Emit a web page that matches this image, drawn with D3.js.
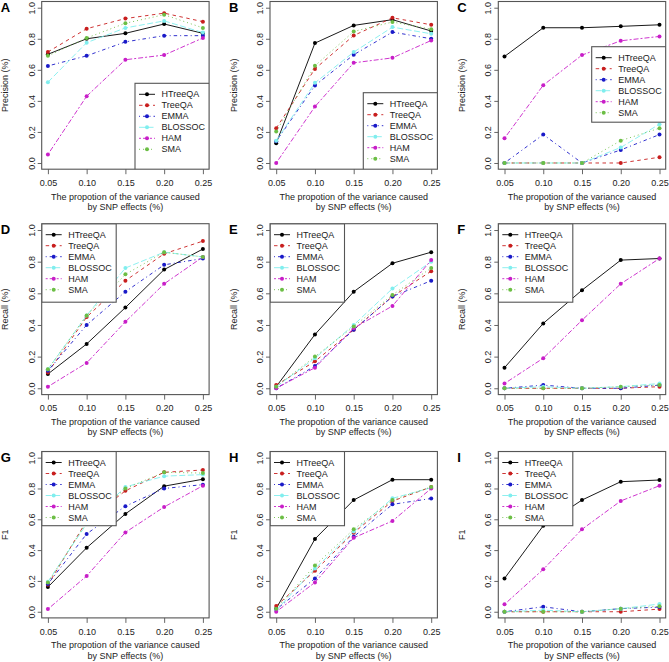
<!DOCTYPE html>
<html><head><meta charset="utf-8">
<script src="https://cdn.jsdelivr.net/npm/d3@7"></script>
<style>
html,body{margin:0;padding:0;background:#fff;}
text{font-family:"Liberation Sans",Arial,Helvetica,sans-serif;}
</style></head>
<body>
<svg id="chart" width="669" height="662"></svg>
<script>
// ---------- data ----------
const xValues = [0.05, 0.10, 0.15, 0.20, 0.25];
const xTickLabels = ["0.05", "0.10", "0.15", "0.20", "0.25"];
const yTicks = [0.0, 0.2, 0.4, 0.6, 0.8, 1.0];
const yTickLabels = ["0.0", "0.2", "0.4", "0.6", "0.8", "1.0"];
const methods = ["HTreeQA", "TreeQA", "EMMA", "BLOSSOC", "HAM", "SMA"];
const panelLetters = ["A","B","C","D","E","F","G","H","I"];
const rowTitles = ["Precision (%)", "Recall (%)", "F1"];
const xTitle = ["The propotion of the variance caused", "by SNP effects (%)"];

// each panel: one row per method (HTreeQA, TreeQA, EMMA, BLOSSOC, HAM, SMA)
const precisionA = [
  [0.70, 0.80, 0.835, 0.895, 0.835],
  [0.715, 0.865, 0.93, 0.965, 0.91],
  [0.625, 0.69, 0.78, 0.82, 0.82],
  [0.52, 0.775, 0.87, 0.915, 0.84],
  [0.055, 0.43, 0.665, 0.695, 0.805],
  [0.69, 0.805, 0.90, 0.955, 0.87]
];
const precisionB = [
  [0.127, 0.772, 0.886, 0.923, 0.85],
  [0.224, 0.606, 0.821, 0.935, 0.89],
  [0.14, 0.499, 0.697, 0.843, 0.80],
  [0.144, 0.516, 0.714, 0.875, 0.832],
  [0.0, 0.363, 0.645, 0.677, 0.789],
  [0.202, 0.626, 0.847, 0.908, 0.862]
];
const precisionC = [
  [0.686, 0.871, 0.871, 0.88, 0.89],
  [0.0, 0.0, 0.0, 0.0, 0.037],
  [0.0, 0.183, 0.0, 0.084, 0.183],
  [0.0, 0.0, 0.0, 0.10, 0.25],
  [0.159, 0.501, 0.695, 0.787, 0.815],
  [0.0, 0.0, 0.0, 0.144, 0.224]
];
const recallD = [
  [0.09, 0.28, 0.51, 0.75, 0.88],
  [0.10, 0.45, 0.68, 0.85, 0.93],
  [0.11, 0.40, 0.61, 0.78, 0.82],
  [0.12, 0.46, 0.76, 0.86, 0.83],
  [0.01, 0.16, 0.42, 0.66, 0.83],
  [0.12, 0.46, 0.72, 0.86, 0.83]
];
const recallE = [
  [0.01, 0.34, 0.61, 0.79, 0.86],
  [0.02, 0.17, 0.37, 0.58, 0.74],
  [0.00, 0.14, 0.37, 0.58, 0.68],
  [0.01, 0.19, 0.40, 0.63, 0.80],
  [0.00, 0.13, 0.38, 0.52, 0.81],
  [0.01, 0.20, 0.39, 0.59, 0.76]
];
const recallF = [
  [0.13, 0.41, 0.62, 0.81, 0.82],
  [0.0, 0.0, 0.0, 0.0, 0.01],
  [0.0, 0.02, 0.0, 0.0, 0.02],
  [0.0, 0.01, 0.0, 0.01, 0.03],
  [0.03, 0.19, 0.43, 0.66, 0.82],
  [0.0, 0.0, 0.0, 0.01, 0.02]
];
const f1G = [
  [0.16, 0.415, 0.635, 0.815, 0.86],
  [0.175, 0.59, 0.785, 0.905, 0.92],
  [0.18, 0.505, 0.685, 0.80, 0.825],
  [0.195, 0.57, 0.81, 0.88, 0.89],
  [0.017, 0.232, 0.515, 0.68, 0.818],
  [0.19, 0.58, 0.80, 0.905, 0.90]
];
const f1H = [
  [0.02, 0.472, 0.725, 0.857, 0.857],
  [0.037, 0.266, 0.513, 0.718, 0.81],
  [0.015, 0.216, 0.487, 0.697, 0.735],
  [0.01, 0.28, 0.52, 0.736, 0.805],
  [0.0, 0.19, 0.48, 0.589, 0.80],
  [0.02, 0.30, 0.535, 0.725, 0.81]
];
const f1I = [
  [0.216, 0.558, 0.725, 0.844, 0.855],
  [0.0, 0.0, 0.0, 0.0, 0.017],
  [0.0, 0.032, 0.0, 0.02, 0.03],
  [0.0, 0.01, 0.0, 0.02, 0.05],
  [0.048, 0.275, 0.535, 0.719, 0.818],
  [0.0, 0.0, 0.0, 0.02, 0.035]
];
const panelData = [precisionA, precisionB, precisionC, recallD, recallE, recallF, f1G, f1H, f1I];

// ---------- styles / layout ----------
const colors = ["#000000", "#c81e1e", "#1a1ac8", "#80eeee", "#c81ec8", "#6cbe45"];
const dashes = [null, "3.5,3.5", "1,3,3.5,3", "6,2.5", "2,2,5,2", "1,3"];

const colLeft = [41.7, 270, 498.3];
const plotW = 167.4;
const rowTop = [1.5, 223.7, 451.5];
const rowBottom = [169.2, 394.6, 617.9];
// legend placement: offset from plot left/top (px), height
const legendPos = [
  {dx: 93.3, dy: 81.8, h: 90},
  {dx: 93.3, dy: 91.2, h: 80},
  {dx: 93.4, dy: 45.2, h: 75.5},
  {dx: 0, dy: 0, h: 78.5},
  {dx: 0, dy: 0, h: 78.5},
  {dx: 0, dy: 0, h: 78.5},
  {dx: 0, dy: 0, h: 74.2},
  {dx: 0, dy: 0, h: 74.2},
  {dx: 0, dy: 0, h: 74.2}
];
const legendW = 74.5;
const fs = 9;

const svg = d3.select("#chart");
svg.append("rect").attr("width", 669).attr("height", 662).attr("fill", "#fff");

panelData.forEach((data, p) => {
  const r = Math.floor(p / 3), c = p % 3;
  const left = colLeft[c], right = left + plotW;
  const top = rowTop[r], bottom = rowBottom[r];
  const x = d3.scaleLinear().domain([0.042, 0.258]).range([left, right]);
  const y = d3.scaleLinear().domain([-0.04, 1.04]).range([bottom, top]);
  const g = svg.append("g");

  // clip
  const clipId = "clip" + p;
  svg.append("clipPath").attr("id", clipId).append("rect")
    .attr("x", left).attr("y", top).attr("width", plotW).attr("height", bottom - top);

  // x axis
  const xAxis = d3.axisBottom(x).tickValues(xValues)
    .tickFormat((d, i) => xTickLabels[i]).tickSize(5).tickSizeOuter(0).tickPadding(4);
  const gx = g.append("g").attr("transform", `translate(0,${bottom})`).call(xAxis);
  gx.select(".domain").remove();
  gx.selectAll("line").attr("stroke", "#555").attr("stroke-width", 0.9);
  gx.selectAll("text").attr("font-size", fs).attr("fill", "#222").attr("dy", "0.85em");

  // y axis
  const yAxis = d3.axisLeft(y).tickValues(yTicks)
    .tickFormat((d, i) => yTickLabels[i]).tickSize(4).tickSizeOuter(0);
  const gy = g.append("g").attr("transform", `translate(${left},0)`).call(yAxis);
  gy.select(".domain").remove();
  gy.selectAll("line").attr("stroke", "#555").attr("stroke-width", 0.9);
  gy.selectAll("text")
    .attr("font-size", fs).attr("fill", "#222")
    .attr("x", null).attr("dy", null)
    .attr("text-anchor", "middle")
    .attr("transform", "translate(-7,0) rotate(-90)");

  // titles
  g.append("text").attr("x", (left + right) / 2).attr("y", bottom + 30.3)
    .attr("text-anchor", "middle").attr("font-size", fs).attr("fill", "#222").text(xTitle[0]);
  g.append("text").attr("x", (left + right) / 2).attr("y", bottom + 40.8)
    .attr("text-anchor", "middle").attr("font-size", fs).attr("fill", "#222").text(xTitle[1]);
  g.append("text")
    .attr("transform", `translate(${left - 33.5},${(top + bottom) / 2}) rotate(-90)`)
    .attr("text-anchor", "middle").attr("font-size", fs).attr("fill", "#222").text(rowTitles[r]);
  g.append("text").attr("x", left - 41).attr("y", top + 10.5)
    .attr("font-size", 13).attr("font-weight", "bold").attr("fill", "#000").text(panelLetters[p]);

  // series
  const line = d3.line().x((d, i) => x(xValues[i])).y(d => y(d));
  const pg = g.append("g");
  data.forEach((vals, m) => {
    pg.append("path").attr("d", line(vals)).attr("fill", "none")
      .attr("stroke", colors[m]).attr("stroke-width", 0.9)
      .attr("stroke-dasharray", dashes[m]);
    pg.selectAll(null).data(vals).enter().append("circle")
      .attr("cx", (d, i) => x(xValues[i])).attr("cy", d => y(d))
      .attr("r", 2).attr("fill", colors[m]);
  });

  // legend
  const lp = legendPos[p];
  const lx = left + lp.dx, ly = top + lp.dy;
  const lg = g.append("g").attr("clip-path", `url(#${clipId})`);
  lg.append("rect").attr("x", lx).attr("y", ly).attr("width", legendW).attr("height", lp.h)
    .attr("fill", "#fff").attr("stroke", "#555").attr("stroke-width", 1.1);
  methods.forEach((name, m) => {
    const ey = ly + 11 + m * 11;
    lg.append("line").attr("x1", lx + 4).attr("x2", lx + 20).attr("y1", ey).attr("y2", ey)
      .attr("stroke", colors[m]).attr("stroke-width", 0.9).attr("stroke-dasharray", dashes[m]);
    lg.append("circle").attr("cx", lx + 12).attr("cy", ey).attr("r", 2).attr("fill", colors[m]);
    lg.append("text").attr("x", lx + 26.5).attr("y", ey).attr("dy", "0.35em")
      .attr("font-size", fs).attr("fill", "#222").text(name);
  });

  // box
  g.append("rect").attr("x", left).attr("y", top).attr("width", plotW).attr("height", bottom - top)
    .attr("fill", "none").attr("stroke", "#555").attr("stroke-width", 1.1);
});
</script>
</body></html>
